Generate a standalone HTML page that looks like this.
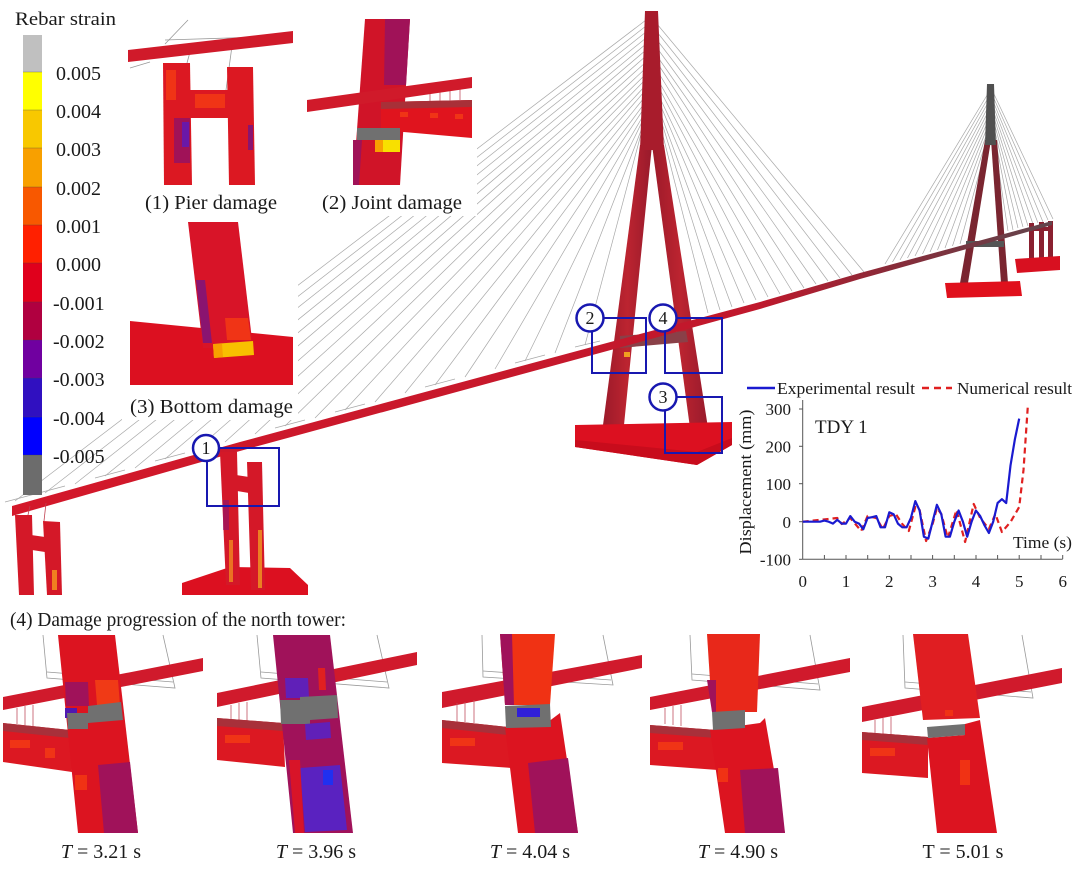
<!DOCTYPE html>
<html><head><meta charset="utf-8"><style>
html,body{margin:0;padding:0;background:#fff;}
svg{display:block;}
text{font-family:"Liberation Serif",serif;fill:#1a1a1a;}
</style></head><body>
<svg width="1080" height="876" viewBox="0 0 1080 876" xmlns="http://www.w3.org/2000/svg">
<defs>
<linearGradient id="deckG" gradientUnits="userSpaceOnUse" x1="0" y1="0" x2="1080" y2="0">
<stop offset="0" stop-color="#d4182a"/><stop offset="0.7" stop-color="#c0182c"/><stop offset="0.82" stop-color="#8a2a38"/><stop offset="1" stop-color="#5a4a50"/>
</linearGradient>
<linearGradient id="towG" x1="0" y1="0" x2="1" y2="0">
<stop offset="0" stop-color="#9c1a2a"/><stop offset="0.5" stop-color="#bc2430"/><stop offset="1" stop-color="#981a2c"/>
</linearGradient>
</defs>

<!-- CABLES -->
<g stroke="#a8a8a8" stroke-width="0.7" fill="none">
<line x1="646" y1="20" x2="15" y2="501"/><line x1="646" y1="26" x2="45" y2="493"/><line x1="646" y1="32" x2="75" y2="484"/><line x1="646" y1="38" x2="105" y2="476"/><line x1="646" y1="44" x2="135" y2="468"/><line x1="646" y1="50" x2="165" y2="459"/><line x1="646" y1="56" x2="195" y2="451"/><line x1="646" y1="62" x2="225" y2="442"/><line x1="646" y1="68" x2="255" y2="434"/><line x1="646" y1="74" x2="285" y2="426"/><line x1="645" y1="80" x2="315" y2="418"/><line x1="645" y1="86" x2="345" y2="410"/><line x1="644" y1="92" x2="375" y2="402"/><line x1="644" y1="98" x2="405" y2="393"/><line x1="644" y1="104" x2="435" y2="385"/><line x1="643" y1="110" x2="465" y2="377"/><line x1="643" y1="116" x2="495" y2="369"/><line x1="642" y1="122" x2="525" y2="361"/><line x1="642" y1="128" x2="555" y2="353"/><line x1="641" y1="134" x2="585" y2="345"/>
<line x1="5" y1="502" x2="35" y2="494"/><line x1="35" y1="494" x2="65" y2="486"/><line x1="95" y1="478" x2="125" y2="470"/><line x1="155" y1="461" x2="185" y2="453"/><line x1="275" y1="428" x2="305" y2="420"/><line x1="335" y1="412" x2="365" y2="404"/><line x1="425" y1="387" x2="455" y2="379"/><line x1="515" y1="363" x2="545" y2="355"/><line x1="575" y1="347" x2="600" y2="341"/>
<line x1="657" y1="24" x2="864" y2="272"/><line x1="657" y1="32" x2="852" y2="275"/><line x1="657" y1="40" x2="840" y2="278"/><line x1="657" y1="48" x2="828" y2="281"/><line x1="657" y1="56" x2="816" y2="284"/><line x1="658" y1="64" x2="804" y2="288"/><line x1="658" y1="72" x2="792" y2="291"/><line x1="658" y1="80" x2="780" y2="294"/><line x1="659" y1="88" x2="768" y2="297"/><line x1="659" y1="96" x2="756" y2="300"/><line x1="660" y1="104" x2="744" y2="303"/><line x1="660" y1="112" x2="732" y2="307"/><line x1="661" y1="120" x2="720" y2="310"/><line x1="661" y1="128" x2="708" y2="313"/>
<line x1="989" y1="92" x2="885" y2="264"/><line x1="989" y1="96.5" x2="892.5" y2="262"/><line x1="989" y1="101" x2="900" y2="260"/><line x1="989" y1="105.5" x2="907.5" y2="258"/><line x1="989" y1="110" x2="915" y2="256"/><line x1="989" y1="114.5" x2="922.5" y2="254"/><line x1="989" y1="119" x2="930" y2="252"/><line x1="989" y1="123.5" x2="937.5" y2="250"/><line x1="989" y1="128" x2="945" y2="248"/><line x1="989" y1="132.5" x2="952.5" y2="246"/><line x1="989" y1="137" x2="960" y2="244"/><line x1="989" y1="141.5" x2="967.5" y2="242"/>
<line x1="993" y1="92" x2="1053" y2="219"/><line x1="993" y1="96.5" x2="1048" y2="220"/><line x1="993" y1="101" x2="1043" y2="222"/><line x1="993" y1="105.5" x2="1038" y2="223"/><line x1="993" y1="110" x2="1033" y2="224"/><line x1="993" y1="114.5" x2="1028" y2="226"/><line x1="993" y1="119" x2="1023" y2="227"/><line x1="993" y1="123.5" x2="1018" y2="228"/><line x1="993" y1="128" x2="1013" y2="230"/><line x1="993" y1="132.5" x2="1008" y2="231"/><line x1="993" y1="137" x2="1003" y2="232"/><line x1="993" y1="141.5" x2="998" y2="234"/>
</g>

<!-- white inset backgrounds -->
<rect x="122" y="0" width="355" height="216" fill="#fff"/>
<rect x="122" y="216" width="176" height="204" fill="#fff"/>

<!-- MAIN TOWER -->
<polygon points="603,425 624,425 652,145 640,145" fill="url(#towG)"/>
<polygon points="652,145 664,145 708,428 690,428" fill="url(#towG)"/>
<polygon points="645,11 658,11 664,150 640,150" fill="#a81c2c"/>
<polygon points="620,336 686,331 688,342 620,348" fill="#8a4048"/>
<rect x="624" y="352" width="6" height="5" fill="#f0a020"/>
<rect x="690" y="424" width="8" height="4" fill="#f0b020"/>
<polygon points="575,425 732,422 732,445 697,465 575,447" fill="#dc1020"/>
<polygon points="575,440 697,452 732,438 732,445 697,465 575,447" fill="#c80c1c"/>

<!-- FAR TOWER -->
<polygon points="985,140 991,140 968,283 960,283" fill="#7a2530"/>
<polygon points="991,140 997,140 1008,283 1001,283" fill="#7a2530"/>
<polygon points="987,84 994,84 996,145 985,145" fill="#505050"/>
<rect x="966" y="241" width="38" height="6" fill="#555"/>
<polygon points="945,283 1020,281 1022,296 947,298" fill="#e0101c"/>
<g fill="#8a2030">
<rect x="1029" y="223" width="5" height="38"/><rect x="1039" y="222" width="5" height="38"/><rect x="1048" y="221" width="5" height="38"/>
<rect x="1029" y="227" width="24" height="4"/>
</g>
<polygon points="1015,259 1060,256 1060,270 1017,273" fill="#d81020"/>

<!-- DECK -->
<polygon points="12,506 240,442 640,334 760,302 860,273 1052,221 1052,225 860,279 760,309 640,342 240,451 12,516" fill="url(#deckG)"/>

<!-- LEFT PIER -->
<g fill="#d41828">
<polygon points="15,515 32,515 34,595 19,595"/>
<polygon points="43,521 60,522 62,595 47,595"/>
<polygon points="31,535 45,537 45,552 32,550"/>
</g>
<rect x="52" y="570" width="5" height="20" fill="#f08020"/>
<g stroke="#c04050" stroke-width="0.8"><line x1="28" y1="515" x2="30" y2="506"/><line x1="44" y1="521" x2="46" y2="503"/></g>

<!-- PIER 1 -->
<polygon points="182,583 230,567 290,568 308,585 308,595 182,595" fill="#dc1020"/>
<g fill="#d41828">
<polygon points="220,452 237,452 240,585 226,585"/>
<polygon points="247,462 262,462 265,590 251,590"/>
<polygon points="236,475 249,477 249,493 237,491"/>
</g>
<rect x="229" y="540" width="4" height="42" fill="#f08a20" opacity="0.8"/>
<rect x="258" y="530" width="4" height="58" fill="#f09a20" opacity="0.8"/>
<rect x="223" y="500" width="6" height="30" fill="#8a1470" opacity="0.6"/>

<!-- annotation boxes -->
<g fill="none" stroke="#1818b0" stroke-width="2">
<rect x="207" y="448" width="72" height="58"/>
<rect x="592" y="318" width="54" height="55"/>
<rect x="665" y="318" width="57" height="55"/>
<rect x="665" y="397" width="57" height="56"/>
</g>
<g fill="#fff" stroke="#1818b0" stroke-width="2.5">
<circle cx="206" cy="448" r="13"/><circle cx="590" cy="318" r="13.5"/><circle cx="663" cy="318" r="13.5"/><circle cx="663" cy="397" r="13.5"/>
</g>
<g font-size="18" text-anchor="middle">
<text x="206" y="454">1</text><text x="590" y="324">2</text><text x="663" y="324">4</text><text x="663" y="403">3</text>
</g>

<!-- COLORBAR -->
<rect x="23" y="35" width="19" height="37" fill="#c0c0c0"/>
<rect x="23" y="72" width="19" height="38" fill="#ffff00"/>
<rect x="23" y="110" width="19" height="38" fill="#f8c800"/>
<rect x="23" y="148" width="19" height="39" fill="#f8a000"/>
<rect x="23" y="187" width="19" height="38" fill="#f85800"/>
<rect x="23" y="225" width="19" height="38" fill="#ff2000"/>
<rect x="23" y="263" width="19" height="39" fill="#e0001c"/>
<rect x="23" y="302" width="19" height="38" fill="#b00040"/>
<rect x="23" y="340" width="19" height="38" fill="#7000a0"/>
<rect x="23" y="378" width="19" height="39" fill="#3010c0"/>
<rect x="23" y="417" width="19" height="38" fill="#0000ff"/>
<rect x="23" y="455" width="19" height="40" fill="#6c6c6c"/>
<g stroke="#444" stroke-width="0.6" opacity="0.6">
<line x1="23" y1="72" x2="42" y2="72"/><line x1="23" y1="110" x2="42" y2="110"/><line x1="23" y1="148" x2="42" y2="148"/><line x1="23" y1="187" x2="42" y2="187"/><line x1="23" y1="225" x2="42" y2="225"/><line x1="23" y1="263" x2="42" y2="263"/><line x1="23" y1="302" x2="42" y2="302"/><line x1="23" y1="340" x2="42" y2="340"/><line x1="23" y1="378" x2="42" y2="378"/><line x1="23" y1="417" x2="42" y2="417"/><line x1="23" y1="455" x2="42" y2="455"/>
</g>
<text x="15" y="25" font-size="19" textLength="101" lengthAdjust="spacingAndGlyphs">Rebar strain</text>
<g font-size="20">
<text x="56" y="80">0.005</text><text x="56" y="118">0.004</text><text x="56" y="156">0.003</text><text x="56" y="195">0.002</text><text x="56" y="233">0.001</text><text x="56" y="271">0.000</text>
<text x="53" y="310">-0.001</text><text x="53" y="348">-0.002</text><text x="53" y="386">-0.003</text><text x="53" y="425">-0.004</text><text x="53" y="463">-0.005</text>
</g>

<!-- INSET 1 -->
<g stroke="#999" stroke-width="0.8" fill="none"><line x1="165" y1="44" x2="188" y2="20"/><line x1="130" y1="68" x2="150" y2="62"/><line x1="165" y1="40" x2="292" y2="36"/><line x1="187" y1="63" x2="190" y2="52"/><line x1="226" y1="90" x2="232" y2="46"/></g>
<polygon points="128,50 293,31 293,43 128,62" fill="#d01a2a"/>
<g fill="#dc1822">
<polygon points="163,63 190,63 192,185 164,185"/>
<polygon points="227,67 253,67 255,185 229,185"/>
<rect x="188" y="90" width="42" height="28"/>
</g>
<rect x="195" y="94" width="30" height="14" fill="#f03416"/>
<rect x="166" y="70" width="10" height="30" fill="#f03416"/>
<rect x="174" y="118" width="16" height="45" fill="#a01258"/>
<rect x="182" y="122" width="7" height="25" fill="#6a18a8"/>
<rect x="248" y="125" width="5" height="25" fill="#8a1470"/>

<!-- INSET 2 -->
<polygon points="365,19 410,19 400,185 353,185" fill="#d01428"/>
<polygon points="385,19 410,19 406,85 384,85" fill="#a01258"/>
<polygon points="353,140 362,140 359,185 353,185" fill="#a01258"/>
<polygon points="381,102 472,100 472,138 381,130" fill="#e0141e"/>
<polygon points="381,102 472,100 472,107 381,109" fill="#a83038"/>
<rect x="400" y="112" width="8" height="5" fill="#f03416"/><rect x="430" y="113" width="8" height="5" fill="#f03416"/><rect x="455" y="114" width="8" height="5" fill="#f03416"/>
<g stroke="#c05060" stroke-width="0.8"><line x1="430" y1="92" x2="430" y2="101"/><line x1="440" y1="90" x2="440" y2="101"/><line x1="450" y1="89" x2="450" y2="101"/><line x1="460" y1="87" x2="460" y2="101"/></g>
<polygon points="307,100 472,77 472,88 307,112" fill="#d01a2a"/>
<rect x="357" y="128" width="43" height="12" fill="#707070"/>
<rect x="375" y="140" width="8" height="12" fill="#f8a000"/>
<rect x="383" y="140" width="17" height="12" fill="#f8e000"/>

<!-- INSET 3 -->
<polygon points="130,321 293,337 293,385 130,385" fill="#dc1020"/>
<polygon points="188,222 238,222 253,348 203,348" fill="#d81428"/>
<polygon points="196,280 205,280 212,343 203,343" fill="#8a1470"/>
<polygon points="225,318 248,318 251,340 227,340" fill="#f03416"/>
<polygon points="213,344 253,341 254,355 214,358" fill="#f8c000"/>
<polygon points="213,344 222,344 223,357 214,358" fill="#f8a000"/>

<!-- inset labels -->
<g font-size="20">
<text x="145" y="209" textLength="132" lengthAdjust="spacingAndGlyphs">(1) Pier damage</text>
<text x="322" y="209" textLength="140" lengthAdjust="spacingAndGlyphs">(2) Joint damage</text>
<text x="130" y="413" textLength="163" lengthAdjust="spacingAndGlyphs">(3) Bottom damage</text>
<text x="10" y="626" textLength="336" lengthAdjust="spacingAndGlyphs">(4) Damage progression of the north tower:</text>
</g>

<!-- CHART -->
<line x1="747" y1="388" x2="775" y2="388" stroke="#1a1ad0" stroke-width="2.5"/>
<text x="777" y="394" font-size="17" textLength="138" lengthAdjust="spacingAndGlyphs">Experimental result</text>
<line x1="922" y1="388" x2="952" y2="388" stroke="#e02020" stroke-width="2.5" stroke-dasharray="7,5"/>
<text x="957" y="394" font-size="17" textLength="115" lengthAdjust="spacingAndGlyphs">Numerical result</text>
<g stroke="#555" stroke-width="1" fill="none">
<line x1="802.7" y1="400" x2="802.7" y2="559.3"/>
<line x1="802.7" y1="559.3" x2="1062.7" y2="559.3"/>
<line x1="799" y1="409" x2="802.7" y2="409"/><line x1="799" y1="446.3" x2="802.7" y2="446.3"/><line x1="799" y1="483.7" x2="802.7" y2="483.7"/><line x1="799" y1="521.7" x2="802.7" y2="521.7"/><line x1="799" y1="559.3" x2="802.7" y2="559.3"/>
<line x1="824.4" y1="555" x2="824.4" y2="559"/><line x1="846" y1="555" x2="846" y2="559"/><line x1="867.7" y1="555" x2="867.7" y2="559"/><line x1="889.3" y1="555" x2="889.3" y2="559"/><line x1="911" y1="555" x2="911" y2="559"/><line x1="932.6" y1="555" x2="932.6" y2="559"/><line x1="954.3" y1="555" x2="954.3" y2="559"/><line x1="976" y1="555" x2="976" y2="559"/><line x1="997.6" y1="555" x2="997.6" y2="559"/><line x1="1019.2" y1="555" x2="1019.2" y2="559"/><line x1="1041" y1="555" x2="1041" y2="559"/><line x1="1062.7" y1="555" x2="1062.7" y2="559"/>
</g>
<g font-size="17" text-anchor="end">
<text x="791" y="415">300</text><text x="791" y="452.5">200</text><text x="791" y="490">100</text><text x="791" y="528">0</text><text x="791" y="565.5">-100</text>
</g>
<g font-size="17" text-anchor="middle">
<text x="802.7" y="587">0</text><text x="846" y="587">1</text><text x="889.3" y="587">2</text><text x="932.6" y="587">3</text><text x="976" y="587">4</text><text x="1019.2" y="587">5</text><text x="1062.7" y="587">6</text>
</g>
<text font-size="17" text-anchor="middle" transform="translate(751,482) rotate(-90)" textLength="145" lengthAdjust="spacingAndGlyphs">Displacement (mm)</text>
<text x="815" y="433" font-size="19">TDY 1</text>
<text x="1013" y="548" font-size="17" textLength="59" lengthAdjust="spacingAndGlyphs">Time (s)</text>
<polyline fill="none" stroke="#e02020" stroke-width="2.2" stroke-dasharray="6,4" stroke-linejoin="round" points="802.7,521.7 837.3,518 841.7,524 850.3,518 861.2,531 867.6,516 876.3,518 882.8,529 889.3,516 895.8,514 902.3,524 908.8,531 915.3,507 919.6,510 926.1,541 932.6,524 936.9,508 941.3,514 947.8,538 956.5,510 965.1,542 973.7,504 980.2,518 988.9,529 995.4,514 1001.9,532 1010.5,522 1019.2,507 1023.5,470 1027.9,405"/>
<polyline fill="none" stroke="#1a1ad0" stroke-width="2.2" stroke-linejoin="round" points="802.7,521.7 820,521.7 824.4,520.6 828.7,521.7 833,523.6 837.3,519.8 841.7,523.6 846,523.6 850.3,516.1 854.7,521.7 859,523.6 863.3,529.2 867.6,518 872,517.2 876.3,516.1 880.6,527.3 885,527.3 889.3,512.3 893.6,514.2 897.9,523.6 902.3,527.3 906.6,527.3 910.9,518 915.3,501.1 919.6,510.5 923.9,536.7 928.3,538.6 932.6,521.7 936.9,504.8 941.3,514.2 945.6,536.7 949.9,536.7 954.3,521.7 958.6,510.5 962.9,521.7 967.2,536.7 971.6,521.7 975.9,510.5 980.2,516.1 984.6,525.5 988.9,533 993.2,521.7 997.6,503 1001.9,499.2 1006.2,503 1010.5,465.5 1014.9,439.2 1019.2,418.6"/>

<!-- BOTTOM PANELS -->
<!-- Panel 1 -->
<g stroke="#999" stroke-width="0.8" fill="none"><polyline points="43,635 47,678 175,688 163,635"/><line x1="47" y1="672" x2="173" y2="682"/></g>
<polygon points="3,697 203,658 203,671 3,710" fill="#d01a2c"/>
<g stroke="#c05060" stroke-width="0.8"><line x1="17" y1="708" x2="17" y2="724"/><line x1="25" y1="706" x2="25" y2="725"/><line x1="33" y1="705" x2="33" y2="726"/></g>
<polygon points="3,723 70,730 72,772 3,762" fill="#dc1822"/>
<polygon points="3,723 70,730 70,738 3,731" fill="#a8303a"/>
<rect x="10" y="740" width="20" height="8" fill="#f03416"/><rect x="45" y="748" width="10" height="10" fill="#f03416"/>
<polygon points="58,635 115,635 138,833 78,833" fill="#dc1420"/>
<polygon points="95,680 118,680 120,705 97,705" fill="#f03a16"/>
<polygon points="65,682 88,682 89,706 66,706" fill="#a0125a"/>
<rect x="65" y="708" width="12" height="10" fill="#5018b0"/>
<polygon points="67,713 88,713 88,706 121,702 123,720 88,723 88,729 68,729" fill="#707070"/>
<polygon points="98,765 130,762 138,833 104,833" fill="#a0125a"/>
<rect x="75" y="775" width="12" height="15" fill="#f03214"/>
<!-- Panel 2 -->
<g stroke="#999" stroke-width="0.8" fill="none"><polyline points="257,635 261,678 389,688 377,635"/><line x1="261" y1="672" x2="387" y2="682"/></g>
<polygon points="217,693 417,652 417,665 217,707" fill="#d01a2c"/>
<g stroke="#c05060" stroke-width="0.8"><line x1="231" y1="705" x2="231" y2="720"/><line x1="239" y1="703" x2="239" y2="721"/><line x1="247" y1="702" x2="247" y2="722"/></g>
<polygon points="217,718 283,723 285,767 217,760" fill="#dc1822"/>
<polygon points="217,718 283,723 283,731 217,726" fill="#a8303a"/>
<rect x="225" y="735" width="25" height="8" fill="#f03416"/>
<polygon points="273,635 330,635 353,833 293,833" fill="#a0125a"/>
<polygon points="285,678 308,678 309,698 286,698" fill="#6020b8"/>
<polygon points="318,668 325,668 326,690 319,690" fill="#e02020"/>
<polygon points="280,700 300,700 300,697 337,695 338,718 310,720 310,724 281,724" fill="#707070"/>
<polygon points="305,724 330,722 331,738 306,740" fill="#6020b8"/>
<polygon points="300,768 340,765 347,830 305,832" fill="#5a22c0"/>
<rect x="323" y="770" width="10" height="15" fill="#2030f0"/>
<polygon points="289,760 300,760 304,833 295,833" fill="#d81428"/>
<!-- Panel 3 -->
<g stroke="#999" stroke-width="0.8" fill="none"><polyline points="482,635 483,677 613,685 603,635"/><line x1="483" y1="671" x2="611" y2="680"/></g>
<polygon points="442,692 642,655 642,668 442,708" fill="#d01a2c"/>
<g stroke="#c05060" stroke-width="0.8"><line x1="457" y1="703" x2="457" y2="722"/><line x1="465" y1="702" x2="465" y2="722"/><line x1="474" y1="700" x2="474" y2="723"/></g>
<polygon points="442,720 508,727 512,768 442,763" fill="#dc1822"/>
<polygon points="442,720 508,727 508,735 442,728" fill="#a8303a"/>
<rect x="450" y="738" width="25" height="8" fill="#f03416"/>
<polygon points="505,727 548,722 560,713 578,833 518,833" fill="#dc1420"/>
<polygon points="528,763 568,758 578,833 535,833" fill="#a0125a"/>
<polygon points="500,634 555,634 550,705 505,705" fill="#f03214"/>
<polygon points="500,634 512,634 514,705 505,705" fill="#a0125a"/>
<polygon points="505,706 550,704 551,727 506,728" fill="#707070"/>
<rect x="517" y="708" width="23" height="9" fill="#3020d8"/>
<!-- Panel 4 -->
<g stroke="#999" stroke-width="0.8" fill="none"><polyline points="690,635 692,680 820,690 810,635"/><line x1="692" y1="674" x2="818" y2="684"/></g>
<polygon points="650,697 850,658 850,672 650,710" fill="#d01a2c"/>
<g stroke="#c05060" stroke-width="0.8"><line x1="665" y1="708" x2="665" y2="724"/><line x1="673" y1="706" x2="673" y2="725"/><line x1="681" y1="705" x2="681" y2="726"/></g>
<polygon points="650,725 716,730 718,770 650,765" fill="#dc1822"/>
<polygon points="650,725 716,730 716,738 650,733" fill="#a8303a"/>
<rect x="658" y="742" width="25" height="8" fill="#f03416"/>
<polygon points="710,730 760,723 765,718 785,833 725,833" fill="#dc1420"/>
<polygon points="740,770 778,768 785,833 745,833" fill="#a0125a"/>
<rect x="718" y="768" width="10" height="14" fill="#f03214"/>
<polygon points="707,634 760,634 757,712 712,712" fill="#e8281a"/>
<polygon points="707,680 716,680 716,712 712,712" fill="#a0125a"/>
<polygon points="712,712 745,710 745,728 713,730" fill="#707070"/>
<!-- Panel 5 -->
<g stroke="#999" stroke-width="0.8" fill="none"><polyline points="903,635 905,688 1033,698 1022,635"/><line x1="905" y1="682" x2="1031" y2="692"/></g>
<polygon points="862,707 1062,668 1062,683 862,722" fill="#d01a2c"/>
<g stroke="#c05060" stroke-width="0.8"><line x1="875" y1="720" x2="875" y2="734"/><line x1="883" y1="718" x2="883" y2="735"/><line x1="891" y1="717" x2="891" y2="736"/></g>
<polygon points="862,732 928,737 928,778 862,773" fill="#dc1822"/>
<polygon points="862,732 928,737 928,745 862,740" fill="#a8303a"/>
<rect x="870" y="748" width="25" height="8" fill="#f03416"/>
<polygon points="927,738 965,735 965,724 980,720 997,833 937,833" fill="#dc1420"/>
<rect x="960" y="760" width="10" height="25" fill="#f03214"/>
<polygon points="913,634 968,634 980,718 923,720" fill="#e01e22"/>
<rect x="945" y="710" width="8" height="6" fill="#f03214"/>
<polygon points="927,727 965,724 965,735 928,738" fill="#707070"/>

<g font-size="20" text-anchor="middle">
<text x="101" y="858"><tspan font-style="italic">T</tspan> = 3.21 s</text>
<text x="316" y="858"><tspan font-style="italic">T</tspan> = 3.96 s</text>
<text x="530" y="858"><tspan font-style="italic">T</tspan> = 4.04 s</text>
<text x="738" y="858"><tspan font-style="italic">T</tspan> = 4.90 s</text>
<text x="963" y="858">T = 5.01 s</text>
</g>
</svg>
</body></html>
